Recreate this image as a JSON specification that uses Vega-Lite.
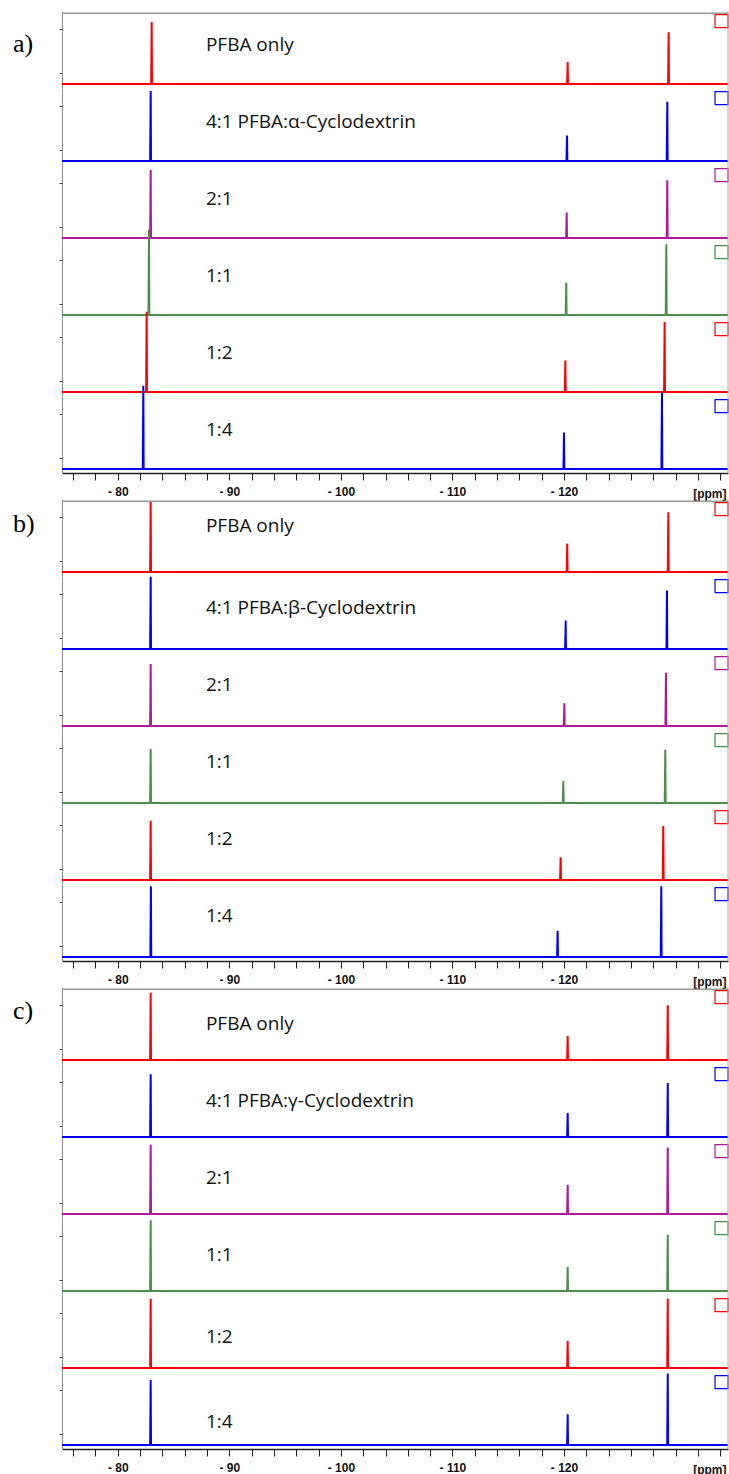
{
"$schema": "https://vega.github.io/schema/vega-lite/v6.json",
"background": "white",
"padding": {"left": 13, "top": 10, "right": 0, "bottom": 0},
"config": {"view": {"stroke": null}, "axis": {"grid": false}, "axisX": {"labelOverlap": false, "labelBound": false, "labelFlush": false, "tickCount": 60}},
"datasets": {
"a": [
{"t":1,"x":-75,"y":0},{"t":1,"x":-83.07,"y":0},{"t":1,"x":-83.04,"y":85},{"t":1,"x":-83.02,"y":51},{"t":1,"x":-82.99,"y":0},{"t":1,"x":-120.36,"y":0},{"t":1,"x":-120.33,"y":30},{"t":1,"x":-120.31,"y":18},{"t":1,"x":-120.28,"y":0},{"t":1,"x":-129.41,"y":0},{"t":1,"x":-129.38,"y":71},{"t":1,"x":-129.36,"y":43},{"t":1,"x":-129.33,"y":0},{"t":1,"x":-134.7,"y":0},
{"t":1,"lab":"PFBA only","let":"a)"},
{"t":2,"x":-75,"y":0},{"t":2,"x":-82.98,"y":0},{"t":2,"x":-82.95,"y":96},{"t":2,"x":-82.93,"y":58},{"t":2,"x":-82.90,"y":0},{"t":2,"x":-120.30,"y":0},{"t":2,"x":-120.27,"y":35},{"t":2,"x":-120.25,"y":21},{"t":2,"x":-120.22,"y":0},{"t":2,"x":-129.29,"y":0},{"t":2,"x":-129.26,"y":81},{"t":2,"x":-129.24,"y":49},{"t":2,"x":-129.21,"y":0},{"t":2,"x":-134.7,"y":0},
{"t":2,"lab":"4:1 PFBA:α-Cyclodextrin"},
{"t":3,"x":-75,"y":0},{"t":3,"x":-82.98,"y":0},{"t":3,"x":-82.95,"y":93},{"t":3,"x":-82.93,"y":56},{"t":3,"x":-82.90,"y":0},{"t":3,"x":-120.27,"y":0},{"t":3,"x":-120.24,"y":35},{"t":3,"x":-120.22,"y":21},{"t":3,"x":-120.19,"y":0},{"t":3,"x":-129.29,"y":0},{"t":3,"x":-129.26,"y":79},{"t":3,"x":-129.24,"y":47},{"t":3,"x":-129.21,"y":0},{"t":3,"x":-134.7,"y":0},
{"t":3,"lab":"2:1"},
{"t":4,"x":-75,"y":0},{"t":4,"x":-82.83,"y":0},{"t":4,"x":-82.80,"y":117},{"t":4,"x":-82.78,"y":70},{"t":4,"x":-82.75,"y":0},{"t":4,"x":-120.23,"y":0},{"t":4,"x":-120.20,"y":44},{"t":4,"x":-120.18,"y":26},{"t":4,"x":-120.15,"y":0},{"t":4,"x":-129.20,"y":0},{"t":4,"x":-129.17,"y":97},{"t":4,"x":-129.15,"y":58},{"t":4,"x":-129.12,"y":0},{"t":4,"x":-134.7,"y":0},
{"t":4,"lab":"1:1"},
{"t":5,"x":-75,"y":0},{"t":5,"x":-82.62,"y":0},{"t":5,"x":-82.59,"y":110},{"t":5,"x":-82.57,"y":66},{"t":5,"x":-82.54,"y":0},{"t":5,"x":-120.15,"y":0},{"t":5,"x":-120.12,"y":43},{"t":5,"x":-120.10,"y":26},{"t":5,"x":-120.07,"y":0},{"t":5,"x":-129.05,"y":0},{"t":5,"x":-129.02,"y":96},{"t":5,"x":-129.00,"y":58},{"t":5,"x":-128.97,"y":0},{"t":5,"x":-134.7,"y":0},
{"t":5,"lab":"1:2"},
{"t":6,"x":-75,"y":0},{"t":6,"x":-82.32,"y":0},{"t":6,"x":-82.29,"y":114},{"t":6,"x":-82.27,"y":68},{"t":6,"x":-82.24,"y":0},{"t":6,"x":-120.03,"y":0},{"t":6,"x":-120.00,"y":50},{"t":6,"x":-119.98,"y":30},{"t":6,"x":-119.95,"y":0},{"t":6,"x":-128.81,"y":0},{"t":6,"x":-128.78,"y":105},{"t":6,"x":-128.76,"y":63},{"t":6,"x":-128.73,"y":0},{"t":6,"x":-134.7,"y":0},
{"t":6,"lab":"1:4"}
],
"b": [
{"t":1,"x":-75,"y":0},{"t":1,"x":-82.98,"y":0},{"t":1,"x":-82.95,"y":97},{"t":1,"x":-82.93,"y":58},{"t":1,"x":-82.90,"y":0},{"t":1,"x":-120.32,"y":0},{"t":1,"x":-120.29,"y":39},{"t":1,"x":-120.27,"y":23},{"t":1,"x":-120.24,"y":0},{"t":1,"x":-129.38,"y":0},{"t":1,"x":-129.35,"y":82},{"t":1,"x":-129.33,"y":49},{"t":1,"x":-129.30,"y":0},{"t":1,"x":-134.7,"y":0},
{"t":1,"lab":"PFBA only","let":"b)"},
{"t":2,"x":-75,"y":0},{"t":2,"x":-82.98,"y":0},{"t":2,"x":-82.95,"y":99},{"t":2,"x":-82.93,"y":59},{"t":2,"x":-82.90,"y":0},{"t":2,"x":-120.18,"y":0},{"t":2,"x":-120.15,"y":39},{"t":2,"x":-120.13,"y":23},{"t":2,"x":-120.10,"y":0},{"t":2,"x":-129.26,"y":0},{"t":2,"x":-129.23,"y":80},{"t":2,"x":-129.21,"y":48},{"t":2,"x":-129.18,"y":0},{"t":2,"x":-134.7,"y":0},
{"t":2,"lab":"4:1 PFBA:β-Cyclodextrin"},
{"t":3,"x":-75,"y":0},{"t":3,"x":-82.98,"y":0},{"t":3,"x":-82.95,"y":85},{"t":3,"x":-82.93,"y":51},{"t":3,"x":-82.90,"y":0},{"t":3,"x":-120.06,"y":0},{"t":3,"x":-120.03,"y":31},{"t":3,"x":-120.01,"y":19},{"t":3,"x":-119.98,"y":0},{"t":3,"x":-129.17,"y":0},{"t":3,"x":-129.14,"y":73},{"t":3,"x":-129.12,"y":44},{"t":3,"x":-129.09,"y":0},{"t":3,"x":-134.7,"y":0},
{"t":3,"lab":"2:1"},
{"t":4,"x":-75,"y":0},{"t":4,"x":-82.98,"y":0},{"t":4,"x":-82.95,"y":74},{"t":4,"x":-82.93,"y":44},{"t":4,"x":-82.90,"y":0},{"t":4,"x":-119.97,"y":0},{"t":4,"x":-119.94,"y":30},{"t":4,"x":-119.92,"y":18},{"t":4,"x":-119.89,"y":0},{"t":4,"x":-129.11,"y":0},{"t":4,"x":-129.08,"y":73},{"t":4,"x":-129.06,"y":44},{"t":4,"x":-129.03,"y":0},{"t":4,"x":-134.7,"y":0},
{"t":4,"lab":"1:1"},
{"t":5,"x":-75,"y":0},{"t":5,"x":-82.98,"y":0},{"t":5,"x":-82.95,"y":81},{"t":5,"x":-82.93,"y":49},{"t":5,"x":-82.90,"y":0},{"t":5,"x":-119.73,"y":0},{"t":5,"x":-119.70,"y":31},{"t":5,"x":-119.68,"y":19},{"t":5,"x":-119.65,"y":0},{"t":5,"x":-128.93,"y":0},{"t":5,"x":-128.90,"y":74},{"t":5,"x":-128.88,"y":44},{"t":5,"x":-128.85,"y":0},{"t":5,"x":-134.7,"y":0},
{"t":5,"lab":"1:2"},
{"t":6,"x":-75,"y":0},{"t":6,"x":-83.00,"y":0},{"t":6,"x":-82.97,"y":97},{"t":6,"x":-82.95,"y":58},{"t":6,"x":-82.92,"y":0},{"t":6,"x":-119.46,"y":0},{"t":6,"x":-119.43,"y":36},{"t":6,"x":-119.41,"y":22},{"t":6,"x":-119.38,"y":0},{"t":6,"x":-128.75,"y":0},{"t":6,"x":-128.72,"y":97},{"t":6,"x":-128.70,"y":58},{"t":6,"x":-128.67,"y":0},{"t":6,"x":-134.7,"y":0},
{"t":6,"lab":"1:4"}
],
"c": [
{"t":1,"x":-75,"y":0},{"t":1,"x":-82.98,"y":0},{"t":1,"x":-82.95,"y":92},{"t":1,"x":-82.93,"y":55},{"t":1,"x":-82.90,"y":0},{"t":1,"x":-120.36,"y":0},{"t":1,"x":-120.33,"y":33},{"t":1,"x":-120.31,"y":20},{"t":1,"x":-120.28,"y":0},{"t":1,"x":-129.33,"y":0},{"t":1,"x":-129.30,"y":75},{"t":1,"x":-129.28,"y":45},{"t":1,"x":-129.25,"y":0},{"t":1,"x":-134.7,"y":0},
{"t":1,"lab":"PFBA only","let":"c)"},
{"t":2,"x":-75,"y":0},{"t":2,"x":-82.98,"y":0},{"t":2,"x":-82.95,"y":86},{"t":2,"x":-82.93,"y":52},{"t":2,"x":-82.90,"y":0},{"t":2,"x":-120.36,"y":0},{"t":2,"x":-120.33,"y":33},{"t":2,"x":-120.31,"y":20},{"t":2,"x":-120.28,"y":0},{"t":2,"x":-129.33,"y":0},{"t":2,"x":-129.30,"y":74},{"t":2,"x":-129.28,"y":44},{"t":2,"x":-129.25,"y":0},{"t":2,"x":-134.7,"y":0},
{"t":2,"lab":"4:1 PFBA:γ-Cyclodextrin"},
{"t":3,"x":-75,"y":0},{"t":3,"x":-82.98,"y":0},{"t":3,"x":-82.95,"y":95},{"t":3,"x":-82.93,"y":57},{"t":3,"x":-82.90,"y":0},{"t":3,"x":-120.36,"y":0},{"t":3,"x":-120.33,"y":40},{"t":3,"x":-120.31,"y":24},{"t":3,"x":-120.28,"y":0},{"t":3,"x":-129.33,"y":0},{"t":3,"x":-129.30,"y":91},{"t":3,"x":-129.28,"y":55},{"t":3,"x":-129.25,"y":0},{"t":3,"x":-134.7,"y":0},
{"t":3,"lab":"2:1"},
{"t":4,"x":-75,"y":0},{"t":4,"x":-82.98,"y":0},{"t":4,"x":-82.95,"y":97},{"t":4,"x":-82.93,"y":58},{"t":4,"x":-82.90,"y":0},{"t":4,"x":-120.36,"y":0},{"t":4,"x":-120.33,"y":33},{"t":4,"x":-120.31,"y":20},{"t":4,"x":-120.28,"y":0},{"t":4,"x":-129.33,"y":0},{"t":4,"x":-129.30,"y":77},{"t":4,"x":-129.28,"y":46},{"t":4,"x":-129.25,"y":0},{"t":4,"x":-134.7,"y":0},
{"t":4,"lab":"1:1"},
{"t":5,"x":-75,"y":0},{"t":5,"x":-82.98,"y":0},{"t":5,"x":-82.95,"y":95},{"t":5,"x":-82.93,"y":57},{"t":5,"x":-82.90,"y":0},{"t":5,"x":-120.36,"y":0},{"t":5,"x":-120.33,"y":37},{"t":5,"x":-120.31,"y":22},{"t":5,"x":-120.28,"y":0},{"t":5,"x":-129.33,"y":0},{"t":5,"x":-129.30,"y":95},{"t":5,"x":-129.28,"y":57},{"t":5,"x":-129.25,"y":0},{"t":5,"x":-134.7,"y":0},
{"t":5,"lab":"1:2"},
{"t":6,"x":-75,"y":0},{"t":6,"x":-82.98,"y":0},{"t":6,"x":-82.95,"y":89},{"t":6,"x":-82.93,"y":53},{"t":6,"x":-82.90,"y":0},{"t":6,"x":-120.36,"y":0},{"t":6,"x":-120.33,"y":42},{"t":6,"x":-120.31,"y":25},{"t":6,"x":-120.28,"y":0},{"t":6,"x":-129.33,"y":0},{"t":6,"x":-129.30,"y":98},{"t":6,"x":-129.28,"y":59},{"t":6,"x":-129.25,"y":0},{"t":6,"x":-134.7,"y":0},
{"t":6,"lab":"1:4"}
]
},
"spacing": -6,
"vconcat": [
{
"data": {"name": "a"},
"facet": {"row": {"field": "t", "type": "ordinal", "header": {"title": null, "labels": false}}},
"spacing": 0,
"bounds": "flush",
"spec": {
"width": 666, "height": 76.67,
"layer": [
{"transform": [{"filter": "isValid(datum.x)"}],
 "mark": {"type": "line", "strokeWidth": 2, "strokeJoin": "bevel"},
 "encoding": {
  "x": {"field": "x", "type": "quantitative", "title": "[ppm]", "scale": {"domain": [-134.7, -75], "reverse": true, "nice": false, "zero": false},
   "axis": {"values": [-76,-78,-80,-82,-84,-86,-88,-90,-92,-94,-96,-98,-100,-102,-104,-106,-108,-110,-112,-114,-116,-118,-120,-122,-124,-126,-128,-130,-132,-134],
    "tickCount": 60,
    "labelExpr": "datum.value % 10 == 0 && datum.value > -125 ? '- ' + abs(datum.value) : ''",
    "tickSize": 7, "labelPadding": 6, "labelFontSize": 12, "labelFontWeight": "bold", "labelFont": "Liberation Sans", "labelColor": "#111",
    "domainColor": "#222", "domainWidth": 1.5, "tickColor": "#222", "labelOverlap": false, "labelFlush": false,
    "titleFontSize": 12, "titleFontWeight": "bold", "titleFont": "Liberation Sans", "titleColor": "#111", "titleX": 664, "titleY": 20, "titleAlign": "right", "titleBaseline": "middle", "titleAnchor": null}},
  "y": {"field": "y", "type": "quantitative", "title": null, "scale": {"domain": [-5, 100], "nice": false, "zero": false},
   "axis": {"values": [15, 45, 75], "labels": false, "tickSize": 3, "domainColor": "#888", "tickColor": "#444"}},
  "color": {"field": "t", "type": "nominal", "legend": null, "scale": {"domain": [1,2,3,4,5,6], "range": ["#ff0000", "#0000ff", "#b0189b", "#4a8f4a", "#ff0000", "#0000ff"]}}
 }},
{"transform": [{"filter": "isValid(datum.lab)"}],
 "mark": {"type": "text", "align": "left", "baseline": "middle", "font": "Open Sans", "fontSize": 19, "color": "#111"},
 "encoding": {"x": {"datum": -87.9, "title": "[ppm]"}, "y": {"datum": 53, "title": null}, "text": {"field": "lab"}}},
{"transform": [{"filter": "isValid(datum.lab)"}],
 "mark": {"type": "point", "shape": "square", "filled": false, "size": 169, "strokeWidth": 1.2, "opacity": 1},
 "encoding": {"x": {"datum": -134.12, "title": "[ppm]"}, "y": {"datum": 86, "title": null}, "color": {"field": "t", "type": "nominal", "legend": null}}},
{"transform": [{"filter": "isValid(datum.let)"}],
 "mark": {"type": "text", "align": "left", "baseline": "middle", "font": "Liberation Serif", "fontSize": 26, "color": "#000"},
 "encoding": {"x": {"datum": -70.61, "title": "[ppm]"}, "y": {"datum": 55, "title": null}, "text": {"field": "let"}}},
{"transform": [{"filter": "isValid(datum.let)"}],
 "mark": {"type": "rule", "color": "#999", "strokeWidth": 1.5},
 "encoding": {"y": {"datum": 97, "title": null}}},
{"transform": [{"filter": "isValid(datum.lab)"}],
 "mark": {"type": "rule", "color": "#aaa", "strokeWidth": 1},
 "encoding": {"x": {"datum": -134.7, "title": "[ppm]"}}}
]
}
},
{
"spacing": -2,
"vconcat": [
{
"data": {"name": "b"},
"facet": {"row": {"field": "t", "type": "ordinal", "header": {"title": null, "labels": false}}},
"spacing": 0,
"bounds": "flush",
"spec": {
"width": 666, "height": 76.67,
"layer": [
{"transform": [{"filter": "isValid(datum.x)"}],
 "mark": {"type": "line", "strokeWidth": 2, "strokeJoin": "bevel"},
 "encoding": {
  "x": {"field": "x", "type": "quantitative", "title": "[ppm]", "scale": {"domain": [-134.7, -75], "reverse": true, "nice": false, "zero": false},
   "axis": {"values": [-76,-78,-80,-82,-84,-86,-88,-90,-92,-94,-96,-98,-100,-102,-104,-106,-108,-110,-112,-114,-116,-118,-120,-122,-124,-126,-128,-130,-132,-134],
    "tickCount": 60,
    "labelExpr": "datum.value % 10 == 0 && datum.value > -125 ? '- ' + abs(datum.value) : ''",
    "tickSize": 7, "labelPadding": 6, "labelFontSize": 12, "labelFontWeight": "bold", "labelFont": "Liberation Sans", "labelColor": "#111",
    "domainColor": "#222", "domainWidth": 1.5, "tickColor": "#222", "labelOverlap": false, "labelFlush": false,
    "titleFontSize": 12, "titleFontWeight": "bold", "titleFont": "Liberation Sans", "titleColor": "#111", "titleX": 664, "titleY": 20, "titleAlign": "right", "titleBaseline": "middle", "titleAnchor": null}},
  "y": {"field": "y", "type": "quantitative", "title": null, "scale": {"domain": [-5, 100], "nice": false, "zero": false},
   "axis": {"values": [15, 45, 75], "labels": false, "tickSize": 3, "domainColor": "#888", "tickColor": "#444"}},
  "color": {"field": "t", "type": "nominal", "legend": null, "scale": {"domain": [1,2,3,4,5,6], "range": ["#ff0000", "#0000ff", "#b0189b", "#4a8f4a", "#ff0000", "#0000ff"]}}
 }},
{"transform": [{"filter": "isValid(datum.lab) && datum.t == 1"}],
 "mark": {"type": "text", "align": "left", "baseline": "middle", "font": "Open Sans", "fontSize": 19, "color": "#111"},
 "encoding": {"x": {"datum": -87.9, "title": "[ppm]"}, "y": {"datum": 63, "title": null}, "text": {"field": "lab"}}},
{"transform": [{"filter": "isValid(datum.lab) && datum.t > 1"}],
 "mark": {"type": "text", "align": "left", "baseline": "middle", "font": "Open Sans", "fontSize": 19, "color": "#111"},
 "encoding": {"x": {"datum": -87.9, "title": "[ppm]"}, "y": {"datum": 56, "title": null}, "text": {"field": "lab"}}},
{"transform": [{"filter": "isValid(datum.lab)"}],
 "mark": {"type": "point", "shape": "square", "filled": false, "size": 169, "strokeWidth": 1.2, "opacity": 1},
 "encoding": {"x": {"datum": -134.12, "title": "[ppm]"}, "y": {"datum": 86, "title": null}, "color": {"field": "t", "type": "nominal", "legend": null}}},
{"transform": [{"filter": "isValid(datum.let)"}],
 "mark": {"type": "text", "align": "left", "baseline": "middle", "font": "Liberation Serif", "fontSize": 26, "color": "#000"},
 "encoding": {"x": {"datum": -70.61, "title": "[ppm]"}, "y": {"datum": 66, "title": null}, "text": {"field": "let"}}},
{"transform": [{"filter": "isValid(datum.let)"}],
 "mark": {"type": "rule", "color": "#999", "strokeWidth": 1.5},
 "encoding": {"y": {"datum": 97, "title": null}}},
{"transform": [{"filter": "isValid(datum.lab)"}],
 "mark": {"type": "rule", "color": "#aaa", "strokeWidth": 1},
 "encoding": {"x": {"datum": -134.7, "title": "[ppm]"}}}
]
}
},
{
"data": {"name": "c"},
"facet": {"row": {"field": "t", "type": "ordinal", "header": {"title": null, "labels": false}}},
"spacing": 0,
"bounds": "flush",
"spec": {
"width": 666, "height": 76.67,
"layer": [
{"transform": [{"filter": "isValid(datum.x)"}],
 "mark": {"type": "line", "strokeWidth": 2, "strokeJoin": "bevel"},
 "encoding": {
  "x": {"field": "x", "type": "quantitative", "title": "[ppm]", "scale": {"domain": [-134.7, -75], "reverse": true, "nice": false, "zero": false},
   "axis": {"values": [-76,-78,-80,-82,-84,-86,-88,-90,-92,-94,-96,-98,-100,-102,-104,-106,-108,-110,-112,-114,-116,-118,-120,-122,-124,-126,-128,-130,-132,-134],
    "tickCount": 60,
    "labelExpr": "datum.value % 10 == 0 && datum.value > -125 ? '- ' + abs(datum.value) : ''",
    "tickSize": 7, "labelPadding": 6, "labelFontSize": 12, "labelFontWeight": "bold", "labelFont": "Liberation Sans", "labelColor": "#111",
    "domainColor": "#222", "domainWidth": 1.5, "tickColor": "#222", "labelOverlap": false, "labelFlush": false,
    "titleFontSize": 12, "titleFontWeight": "bold", "titleFont": "Liberation Sans", "titleColor": "#111", "titleX": 664, "titleY": 20, "titleAlign": "right", "titleBaseline": "middle", "titleAnchor": null}},
  "y": {"field": "y", "type": "quantitative", "title": null, "scale": {"domain": [-5, 100], "nice": false, "zero": false},
   "axis": {"values": [15, 45, 75], "labels": false, "tickSize": 3, "domainColor": "#888", "tickColor": "#444"}},
  "color": {"field": "t", "type": "nominal", "legend": null, "scale": {"domain": [1,2,3,4,5,6], "range": ["#ff0000", "#0000ff", "#b0189b", "#4a8f4a", "#ff0000", "#0000ff"]}}
 }},
{"transform": [{"filter": "isValid(datum.lab) && datum.t <= 4"}],
 "mark": {"type": "text", "align": "left", "baseline": "middle", "font": "Open Sans", "fontSize": 19, "color": "#111"},
 "encoding": {"x": {"datum": -87.9, "title": "[ppm]"}, "y": {"datum": 49, "title": null}, "text": {"field": "lab"}}},
{"transform": [{"filter": "isValid(datum.lab) && datum.t == 5"}],
 "mark": {"type": "text", "align": "left", "baseline": "middle", "font": "Open Sans", "fontSize": 19, "color": "#111"},
 "encoding": {"x": {"datum": -87.9, "title": "[ppm]"}, "y": {"datum": 42, "title": null}, "text": {"field": "lab"}}},
{"transform": [{"filter": "isValid(datum.lab) && datum.t == 6"}],
 "mark": {"type": "text", "align": "left", "baseline": "middle", "font": "Open Sans", "fontSize": 19, "color": "#111"},
 "encoding": {"x": {"datum": -87.9, "title": "[ppm]"}, "y": {"datum": 32, "title": null}, "text": {"field": "lab"}}},
{"transform": [{"filter": "isValid(datum.lab)"}],
 "mark": {"type": "point", "shape": "square", "filled": false, "size": 169, "strokeWidth": 1.2, "opacity": 1},
 "encoding": {"x": {"datum": -134.12, "title": "[ppm]"}, "y": {"datum": 86, "title": null}, "color": {"field": "t", "type": "nominal", "legend": null}}},
{"transform": [{"filter": "isValid(datum.let)"}],
 "mark": {"type": "text", "align": "left", "baseline": "middle", "font": "Liberation Serif", "fontSize": 26, "color": "#000"},
 "encoding": {"x": {"datum": -70.61, "title": "[ppm]"}, "y": {"datum": 67, "title": null}, "text": {"field": "let"}}},
{"transform": [{"filter": "isValid(datum.let)"}],
 "mark": {"type": "rule", "color": "#999", "strokeWidth": 1.5},
 "encoding": {"y": {"datum": 97, "title": null}}},
{"transform": [{"filter": "isValid(datum.lab)"}],
 "mark": {"type": "rule", "color": "#aaa", "strokeWidth": 1},
 "encoding": {"x": {"datum": -134.7, "title": "[ppm]"}}}
]
}
}
]
}
]
}
